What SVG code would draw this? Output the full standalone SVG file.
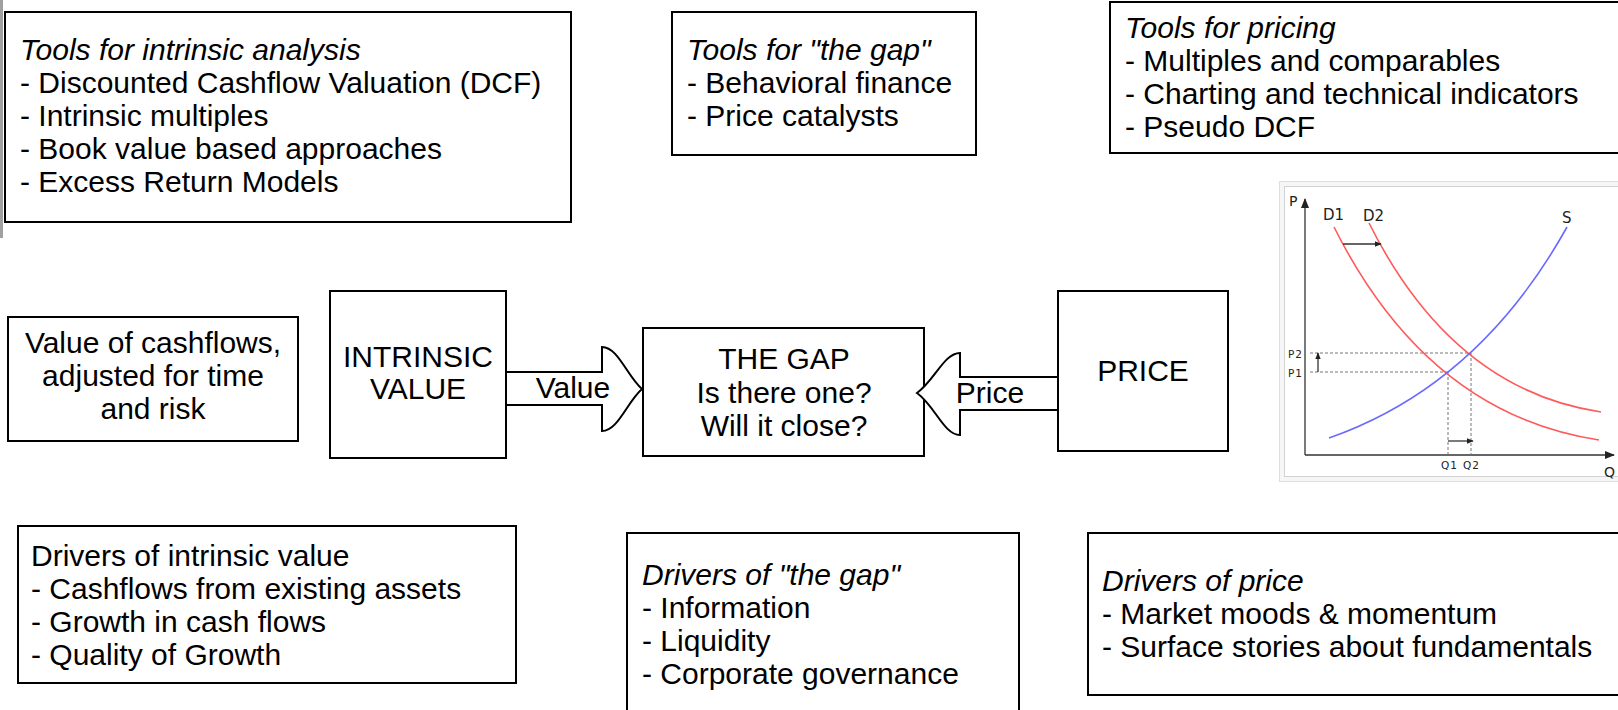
<svg xmlns="http://www.w3.org/2000/svg" width="1618" height="710" viewBox="0 0 1618 710">
<defs>
<style>
.box{fill:#fff;stroke:#000;stroke-width:2}
.t{font-family:"Liberation Sans",Arial,Helvetica,sans-serif;font-size:30px;fill:#000}
.i{font-style:italic}
.c{text-anchor:middle}
.arr{fill:#fff;stroke:#000;stroke-width:2;stroke-linejoin:miter}
.ax{fill:none;stroke:#333;stroke-width:1.3}
.dash{fill:none;stroke:#777;stroke-width:1;stroke-dasharray:3,2}
.red{fill:none;stroke:#ff5a5a;stroke-width:1.6}
.blue{fill:none;stroke:#6a6aff;stroke-width:1.6}
.sm{font-family:"DejaVu Sans",sans-serif;fill:#222}
.tick{font-size:10.5px;letter-spacing:1px}
</style>
<marker id="ah" viewBox="0 0 10 10" refX="9" refY="5" markerWidth="7" markerHeight="7" orient="auto" markerUnits="userSpaceOnUse">
<path d="M0,1 L10,5 L0,9 Z" fill="#222"/>
</marker>
<marker id="ahb" viewBox="0 0 10 10" refX="9" refY="5" markerWidth="12" markerHeight="10" orient="auto" markerUnits="userSpaceOnUse">
<path d="M0,1 L10,5 L0,9 Z" fill="#222"/>
</marker>
</defs>
<rect x="0" y="0" width="1618" height="710" fill="#fff"/>
<rect x="0" y="0" width="3" height="238" fill="#a0a0a0"/>

<g id="tools-intrinsic">
<rect class="box" x="5" y="12" width="566" height="210"/>
<text class="t i" x="20" y="60">Tools for intrinsic analysis</text>
<text class="t" x="20" y="93">- Discounted Cashflow Valuation (DCF)</text>
<text class="t" x="20" y="126">- Intrinsic multiples</text>
<text class="t" x="20" y="159">- Book value based approaches</text>
<text class="t" x="20" y="192">- Excess Return Models</text>
</g>

<g id="tools-gap">
<rect class="box" x="672" y="12" width="304" height="143"/>
<text class="t i" x="687" y="60">Tools for "the gap"</text>
<text class="t" x="687" y="93">- Behavioral finance</text>
<text class="t" x="687" y="126">- Price catalysts</text>
</g>

<g id="tools-pricing">
<rect class="box" x="1110" y="2" width="530" height="151"/>
<text class="t i" x="1125" y="38">Tools for pricing</text>
<text class="t" x="1125" y="71">- Multiples and comparables</text>
<text class="t" x="1125" y="104">- Charting and technical indicators</text>
<text class="t" x="1125" y="137">- Pseudo DCF</text>
</g>

<g id="value-of-cashflows">
<rect class="box" x="8" y="317" width="290" height="124"/>
<text class="t c" x="153" y="353">Value of cashflows,</text>
<text class="t c" x="153" y="386">adjusted for time</text>
<text class="t c" x="153" y="419">and risk</text>
</g>

<g id="intrinsic-value">
<rect class="box" x="330" y="291" width="176" height="167"/>
<text class="t c" x="418" y="367">INTRINSIC</text>
<text class="t c" x="418" y="399">VALUE</text>
</g>

<g id="the-gap">
<rect class="box" x="643" y="328" width="281" height="128"/>
<text class="t c" x="784" y="369">THE GAP</text>
<text class="t c" x="784" y="403">Is there one?</text>
<text class="t c" x="784" y="436">Will it close?</text>
</g>

<g id="price">
<rect class="box" x="1058" y="291" width="170" height="160"/>
<text class="t c" x="1143" y="381">PRICE</text>
</g>

<g id="connectors">
<path class="arr" d="M506,372 L602,372 L602,347 C618,347 627,376 642,389 C627,402 618,431 602,431 L602,405 L506,405 Z"/>
<text class="t c" x="573" y="398">Value</text>
<path class="arr" d="M1058,377 L960,377 L960,353 C944,353 935,380 917,393 C935,406 944,435 960,435 L960,410 L1058,410 Z"/>
<text class="t c" x="990" y="403">Price</text>
</g>

<g id="drivers-intrinsic">
<rect class="box" x="18" y="526" width="498" height="157"/>
<text class="t" x="31" y="566">Drivers of intrinsic value</text>
<text class="t" x="31" y="599">- Cashflows from existing assets</text>
<text class="t" x="31" y="632">- Growth in cash flows</text>
<text class="t" x="31" y="665">- Quality of Growth</text>
</g>

<g id="drivers-gap">
<rect class="box" x="627" y="533" width="392" height="190"/>
<text class="t i" x="642" y="585">Drivers of "the gap"</text>
<text class="t" x="642" y="618">- Information</text>
<text class="t" x="642" y="651">- Liquidity</text>
<text class="t" x="642" y="684">- Corporate governance</text>
</g>

<g id="drivers-price">
<rect class="box" x="1088" y="533" width="560" height="162"/>
<text class="t i" x="1102" y="591">Drivers of price</text>
<text class="t" x="1102" y="624">- Market moods &amp; momentum</text>
<text class="t" x="1102" y="657">- Surface stories about fundamentals</text>
</g>

<g id="supply-demand-chart">
<rect x="1279.5" y="181.5" width="400" height="300" fill="#f6f6f6" stroke="#dedede" stroke-width="1"/>
<rect x="1284.5" y="186.5" width="400" height="290" fill="#fff" stroke="#d2d2d2" stroke-width="1"/>
<line class="ax" x1="1305" y1="455" x2="1305" y2="199" marker-end="url(#ahb)"/>
<line class="ax" x1="1305" y1="455" x2="1614" y2="455" marker-end="url(#ahb)"/>
<path class="dash" d="M1310,353 L1471,353 M1310,372 L1448,372 M1448,372 L1448,455 M1471,353 L1471,455"/>
<path class="red" d="M1334,227 Q1427.6,414 1599,440"/>
<path class="red" d="M1369,223 Q1452.4,389.8 1601,412"/>
<path class="blue" d="M1329,438 Q1478.9,385.5 1567,227"/>
<line class="ax" x1="1343" y1="244" x2="1381" y2="244" marker-end="url(#ah)"/>
<line class="ax" x1="1318" y1="372" x2="1318" y2="353" marker-end="url(#ah)"/>
<line class="ax" x1="1448" y1="441" x2="1473" y2="441" marker-end="url(#ah)"/>
<text class="sm" x="1289" y="206" font-size="14">P</text>
<text class="sm" x="1323" y="220" font-size="15">D1</text>
<text class="sm" x="1363" y="221" font-size="15">D2</text>
<text class="sm" x="1562" y="223" font-size="15">S</text>
<text class="sm tick" x="1288" y="358">P2</text>
<text class="sm tick" x="1288" y="377">P1</text>
<text class="sm tick" x="1441" y="469">Q1</text>
<text class="sm tick" x="1463" y="469">Q2</text>
<text class="sm" x="1604" y="477" font-size="14">Q</text>
</g>
</svg>
